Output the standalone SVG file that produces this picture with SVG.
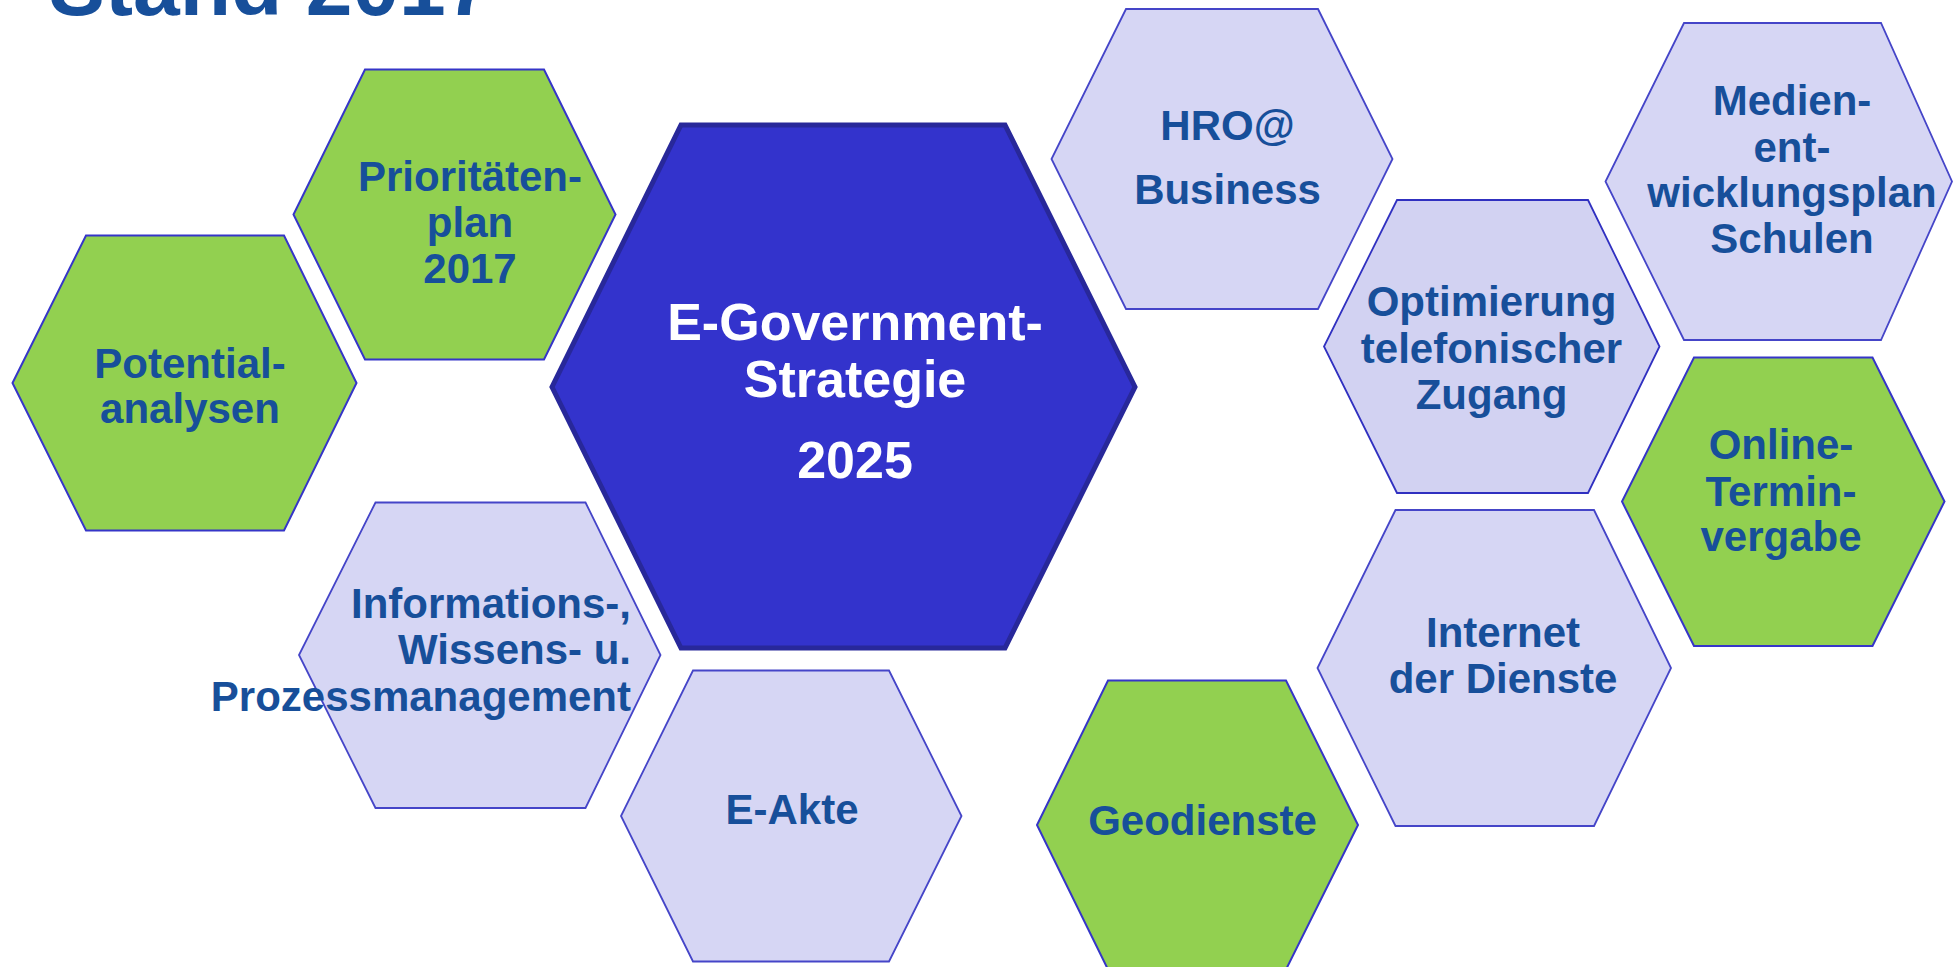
<svg xmlns="http://www.w3.org/2000/svg" width="1954" height="967" viewBox="0 0 1954 967">
<style>
.bg{fill:#ffffff}
.green{fill:#92D050;stroke:#3535C8;stroke-width:2}
.lav{fill:#D6D6F4;stroke:#4545C8;stroke-width:1.8}
.center{fill:#3333CC;stroke:#28289A;stroke-width:5;stroke-linejoin:miter}
.t{font-family:"Liberation Sans",Arial,sans-serif;font-weight:bold;font-size:42px;fill:#174F9A;text-anchor:middle}
.tw{font-family:"Liberation Sans",Arial,sans-serif;font-weight:bold;font-size:52px;fill:#ffffff;text-anchor:middle}
.title{font-family:"Liberation Sans",Arial,sans-serif;font-weight:bold;font-size:84px;fill:#174F9A}
</style>
<rect class="bg" x="0" y="0" width="1954" height="967"/>
<text class="title" x="49" y="15">Stand 2017</text>

<g id="potential">
<polygon class="green" points="86,235.5 284,235.5 356.5,383 284,530.5 86,530.5 12.5,383"/>
<text class="t" x="190" y="378">Potential-</text>
<text class="t" x="190" y="422.5">analysen</text>
</g>

<g id="prioritaeten">
<polygon class="green" points="365,69.5 544,69.5 615.5,214.5 544,359.5 365,359.5 293.5,214.5"/>
<text class="t" x="470" y="191">Prioritäten-</text>
<text class="t" x="470" y="237">plan</text>
<text class="t" x="470" y="283">2017</text>
</g>

<g id="egov">
<polygon class="center" points="681,125 1005,125 1135,387 1005,648 681,648 552,387"/>
<text class="tw" x="855" y="340">E-Government-</text>
<text class="tw" x="855" y="397">Strategie</text>
<text class="tw" x="855" y="478">2025</text>
</g>

<g id="informations">
<polygon class="lav" points="375.5,502.5 585.5,502.5 660.5,655 585.5,808 375.5,808 299,655"/>
<text class="t" style="text-anchor:end" x="631" y="618">Informations-,</text>
<text class="t" style="text-anchor:end" x="631" y="664">Wissens- u.</text>
<text class="t" style="text-anchor:end" x="631" y="710.5">Prozessmanagement</text>
</g>

<g id="eakte">
<polygon class="lav" points="693,670.5 889,670.5 961.5,816 889,961.5 693,961.5 621,816"/>
<text class="t" x="792" y="824">E-Akte</text>
</g>

<g id="hro">
<polygon class="lav" points="1126,9 1318,9 1392.5,159 1318,309 1126,309 1051.5,159"/>
<text class="t" x="1227.5" y="139.5">HRO@</text>
<text class="t" x="1227.5" y="203.5">Business</text>
</g>

<g id="optimierung">
<polygon class="lav" style="fill:#D2D2F2;stroke:#3030C0" points="1397,200 1588,200 1659.5,346.5 1588,493 1397,493 1324,346.5"/>
<text class="t" x="1491.5" y="316">Optimierung</text>
<text class="t" x="1491.5" y="362.5">telefonischer</text>
<text class="t" x="1491.5" y="408.5">Zugang</text>
</g>

<g id="medien">
<polygon class="lav" points="1684,23 1881,23 1952,181.5 1881,340 1684,340 1605.5,181.5"/>
<text class="t" x="1792" y="115">Medien-</text>
<text class="t" x="1792" y="161.5">ent-</text>
<text class="t" x="1792" y="206.5">wicklungsplan</text>
<text class="t" x="1792" y="252.5">Schulen</text>
</g>

<g id="online">
<polygon class="green" points="1694,357.5 1872.5,357.5 1944.5,501.5 1872.5,646 1694,646 1622,501.5"/>
<text class="t" x="1781" y="459">Online-</text>
<text class="t" x="1781" y="505.5">Termin-</text>
<text class="t" x="1781" y="550.5">vergabe</text>
</g>

<g id="internet">
<polygon class="lav" points="1395.5,510 1594,510 1671,668 1594,826 1395.5,826 1317.5,668"/>
<text class="t" x="1503" y="647">Internet</text>
<text class="t" x="1503" y="693">der Dienste</text>
</g>

<g id="geodienste">
<polygon class="green" points="1108,680.5 1286,680.5 1358,825 1286,969.5 1108,969.5 1037,825"/>
<text class="t" x="1202.5" y="835">Geodienste</text>
</g>

<g id="connectors"></g>
</svg>
